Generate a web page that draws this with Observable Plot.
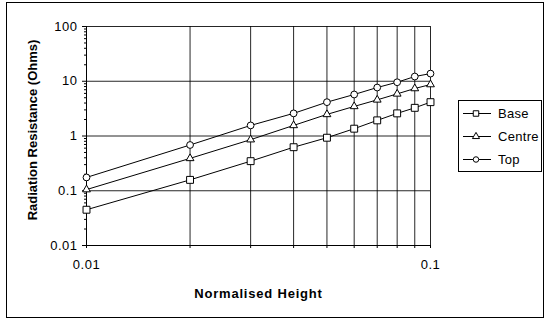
<!DOCTYPE html>
<html><head><meta charset="utf-8">
<script src="https://cdn.jsdelivr.net/npm/d3@7"></script>
<script src="https://cdn.jsdelivr.net/npm/@observablehq/plot@0.6"></script>
<style>
body{margin:0;background:#fff;font-family:Arial,"Liberation Sans",sans-serif;}
#wrap{position:relative;width:544px;height:322px;overflow:hidden;}
#frame{position:absolute;left:6px;top:2px;width:538px;height:316px;border:1px solid #000;box-sizing:border-box;}
#chart{position:absolute;left:0;top:0;}
#legend{position:absolute;left:458px;top:100px;width:84px;height:72px;border:1px solid #000;box-sizing:border-box;background:#fff;}
.row{position:absolute;left:4px;height:14px;display:flex;align-items:center;font-size:13px;letter-spacing:0.3px;color:#000;}
.row svg{display:block;margin-right:5px;}
</style></head>
<body><div id="wrap"><div id="frame"></div><div id="chart"></div><div id="legend"></div></div>
<script>
const heights = [0.01, 0.02, 0.03, 0.04, 0.05, 0.06, 0.07, 0.08, 0.09, 0.1];
const base    = [0.045, 0.158, 0.347, 0.624, 0.93, 1.36, 1.93, 2.59, 3.27, 4.15];
const centre  = [0.105, 0.39, 0.857, 1.56, 2.48, 3.47, 4.57, 5.88, 7.37, 8.71];
const topVals = [0.175, 0.685, 1.56, 2.59, 4.15, 5.73, 7.68, 9.59, 12.2, 13.8];
const seriesNames = ["Base", "Centre", "Top"];
const seriesSymbols = ["square", "triangle", "circle"];
const yMajorTicks = [0.01, 0.1, 1, 10, 100];
const yMinorTicks = [0.02,0.03,0.04,0.05,0.06,0.07,0.08,0.09,0.2,0.3,0.4,0.5,0.6,0.7,0.8,0.9,2,3,4,5,6,7,8,9,20,30,40,50,60,70,80,90];
const xTickLabels = [0.01, 0.1];

const allSeries = [base, centre, topVals];
const data = [];
allSeries.forEach((vals, i) => vals.forEach((v, j) => data.push({x: heights[j], y: v, s: seriesNames[i]})));

const symMap = Object.fromEntries(seriesNames.map((n, i) => [n, seriesSymbols[i]]));
const rMap = {square: 3.9, triangle: 2.9, circle: 3.4};

const chart = Plot.plot({
  width: 544, height: 322,
  marginLeft: 86, marginRight: 114, marginTop: 26, marginBottom: 77,
  style: {background: "transparent", fontFamily: "Arial, 'Liberation Sans', sans-serif", fontSize: "13px", color: "#000"},
  x: {type: "log", domain: [0.01, 0.1]},
  y: {type: "log", domain: [0.01, 100]},
  marks: [
    Plot.gridX(heights, {stroke: "#000", strokeOpacity: 0.85}),
    Plot.gridY([0.1, 1, 10, 100], {stroke: "#000", strokeOpacity: 0.85}),
    Plot.ruleX([0.01], {stroke: "#000"}),
    Plot.ruleY([0.01], {stroke: "#000"}),
    Plot.axisY(yMinorTicks, {tickSize: 2, tickFormat: () => "", label: null}),
    Plot.axisY(yMajorTicks, {tickSize: 4, tickPadding: 5, tickFormat: d => String(d), fontSize: 13,
      label: "Radiation Resistance (Ohms)", labelAnchor: "center", labelArrow: "none", labelOffset: 59}),
    Plot.axisX(heights, {tickSize: 3, tickFormat: () => "", label: null}),
    Plot.axisX(xTickLabels, {tickSize: 3, tickPadding: 11, tickFormat: d => String(d), fontSize: 13,
      label: "Normalised Height", labelAnchor: "center", labelArrow: "none", labelOffset: 52}),
    Plot.line(data, {x: "x", y: "y", z: "s", stroke: "#000", strokeWidth: 1}),
    ...seriesNames.map((n) => Plot.dot(data.filter(d => d.s === n), {x: "x", y: "y", symbol: () => symMap[n], r: rMap[symMap[n]], fill: "#fff", stroke: "#000", strokeWidth: 1}))
  ]
});
chart.querySelectorAll('g[aria-label="y-axis tick label"] text, g[aria-label="x-axis tick label"] text').forEach(t => t.setAttribute("letter-spacing", "0.5"));
chart.querySelectorAll('g[aria-label="y-axis label"] text').forEach(t => { t.setAttribute("font-weight", "bold"); t.setAttribute("font-size", "13"); t.setAttribute("dx", "6"); });
chart.querySelectorAll('g[aria-label="x-axis label"] text').forEach(t => { t.setAttribute("font-weight", "bold"); t.setAttribute("font-size", "13"); t.setAttribute("letter-spacing", "0.8"); });
document.getElementById("chart").appendChild(chart);

// legend
const legend = document.getElementById("legend");
const rowTops = [5, 28, 51];
seriesNames.forEach((n, i) => {
  const row = document.createElement("div");
  row.className = "row";
  row.style.top = rowTops[i] + "px";
  const symType = {square: d3.symbolSquare, triangle: d3.symbolTriangle, circle: d3.symbolCircle}[seriesSymbols[i]];
  const sizes = {square: 30, triangle: 22, circle: 24};
  const path = d3.symbol(symType, sizes[seriesSymbols[i]])();
  row.innerHTML = `<svg width="30" height="14"><line x1="0" x2="28" y1="7.5" y2="7.5" stroke="#000"/><path d="${path}" transform="translate(13,7.5)" fill="#fff" stroke="#000"/></svg><span>${n}</span>`;
  legend.appendChild(row);
});
</script>
</body></html>
